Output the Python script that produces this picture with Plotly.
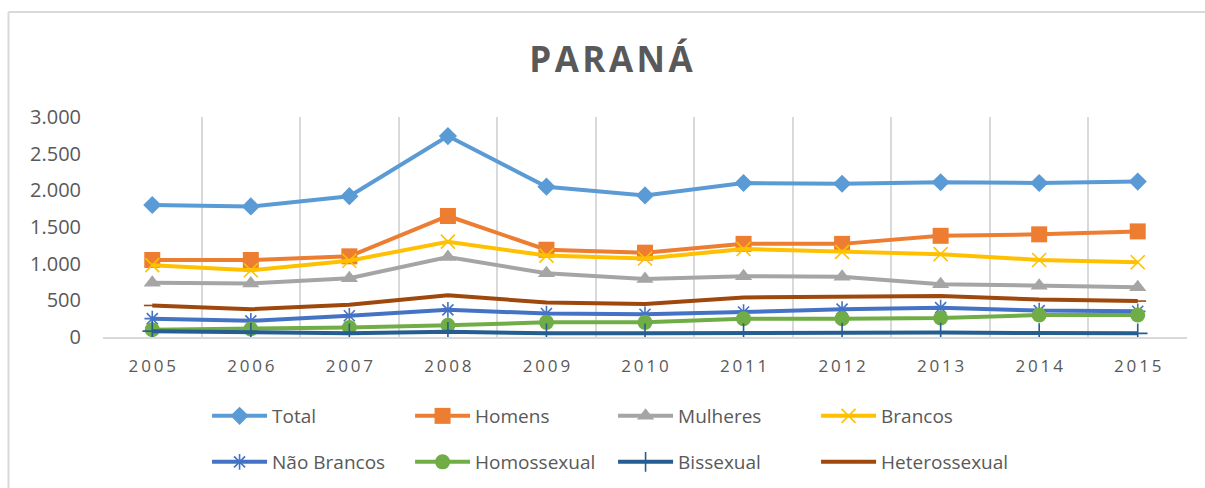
import plotly.graph_objects as go

# Série anual 2005–2015
anos = ["2005", "2006", "2007", "2008", "2009", "2010",
        "2011", "2012", "2013", "2014", "2015"]

total = [1800, 1780, 1920, 2740, 2050, 1930, 2100, 2090, 2110, 2100, 2120]
homens = [1050, 1050, 1100, 1650, 1190, 1150, 1270, 1270, 1380, 1400, 1440]
mulheres = [740, 730, 800, 1090, 870, 790, 830, 820, 720, 700, 680]
brancos = [980, 910, 1040, 1300, 1110, 1070, 1200, 1160, 1130, 1050, 1020]
nao_brancos = [250, 220, 290, 370, 320, 310, 340, 380, 400, 360, 350]
homossexual = [100, 110, 130, 160, 200, 200, 250, 250, 260, 300, 300]
bissexual = [80, 60, 50, 70, 50, 50, 55, 60, 60, 55, 50]
heterossexual = [430, 380, 440, 570, 470, 450, 540, 550, 560, 510, 490]

y_ticks = [0, 500, 1000, 1500, 2000, 2500, 3000]

HAIR = "\u200a"
THIN = "\u2009"
ano_labels = [THIN.join(a) for a in anos]

series = [
    # name, values, color, symbol, size, legend
    ("Total", total, "#5B9BD5", "diamond", 14, "legend"),
    ("Homens", homens, "#ED7D31", "square", 16, "legend"),
    ("Mulheres", mulheres, "#A5A5A5", "triangle-up", 15, "legend"),
    ("Brancos", brancos, "#FFC000", "x-thin-open", 14, "legend"),
    ("Não Brancos", nao_brancos, "#4472C4", "asterisk-open", 13, "legend2"),
    ("Homossexual", homossexual, "#70AD47", "circle", 15, "legend2"),
    ("Bissexual", bissexual, "#255E91", "cross-thin-open", 14, "legend2"),
    ("Heterossexual", heterossexual, "#9E480E", "line-ew-open", 12, "legend2"),
]

fig = go.Figure()
for name, vals, color, symbol, size, leg in series:
    open_sym = symbol.endswith("-open")
    marker = dict(symbol=symbol, size=size, color=color,
                  line=dict(color=color, width=1.6 if open_sym else 0))
    fig.add_trace(go.Scatter(
        x=anos, y=vals, name=name, mode="lines+markers",
        line=dict(color=color, width=4),
        marker=marker, legend=leg,
    ))

font_family = "Open Sans"
grid = "#D9D9D9"
text_color = "#595959"

legend_common = dict(
    orientation="h", xanchor="left", yanchor="middle",
    x=0.096, entrywidth=133, entrywidthmode="pixels",
    font=dict(family=font_family, size=19, color=text_color),
    itemwidth=55, bgcolor="rgba(0,0,0,0)", traceorder="normal",
)

fig.update_layout(
    width=1205, height=488,
    margin=dict(l=103, r=18, t=117, b=151, autoexpand=False),
    paper_bgcolor="white", plot_bgcolor="white",
    separators=",.",
    title=dict(
        text=HAIR.join("PARANÁ"),
        x=0.507, xanchor="center", y=1 - 60 / 488, yanchor="middle",
        font=dict(family=font_family, size=35, color=text_color, weight="bold"),
    ),
    xaxis=dict(
        type="category", tickson="boundaries",
        tickvals=anos, ticktext=ano_labels,
        showgrid=True, gridcolor=grid, gridwidth=1.5,
        showline=True, linecolor=grid, linewidth=1.5,
        ticks="", ticklabelstandoff=13,
        tickfont=dict(family=font_family, size=17, color=text_color),
        range=[-0.5, len(anos) - 0.5], zeroline=False,
    ),
    yaxis=dict(
        range=[0, 3000], tickvals=y_ticks, tickformat=",d",
        showgrid=False, zeroline=False, showline=False,
        ticks="", ticklabelstandoff=21,
        tickfont=dict(family=font_family, size=20, color=text_color),
    ),
    legend=dict(y=(337 - 416) / 220, **legend_common),
    legend2=dict(y=(337 - 462) / 220, **legend_common),
    shapes=[
        # moldura da área do gráfico
        dict(type="line", xref="paper", yref="paper",
             x0=(8.5 - 103) / 1084, x1=(1205 - 103) / 1084,
             y0=(337 - 12) / 220, y1=(337 - 12) / 220,
             line=dict(color=grid, width=2)),
        dict(type="line", xref="paper", yref="paper",
             x0=(8.5 - 103) / 1084, x1=(8.5 - 103) / 1084,
             y0=(337 - 12) / 220, y1=(337 - 490) / 220,
             line=dict(color=grid, width=2)),
    ],
)

fig.write_html("out.html")
